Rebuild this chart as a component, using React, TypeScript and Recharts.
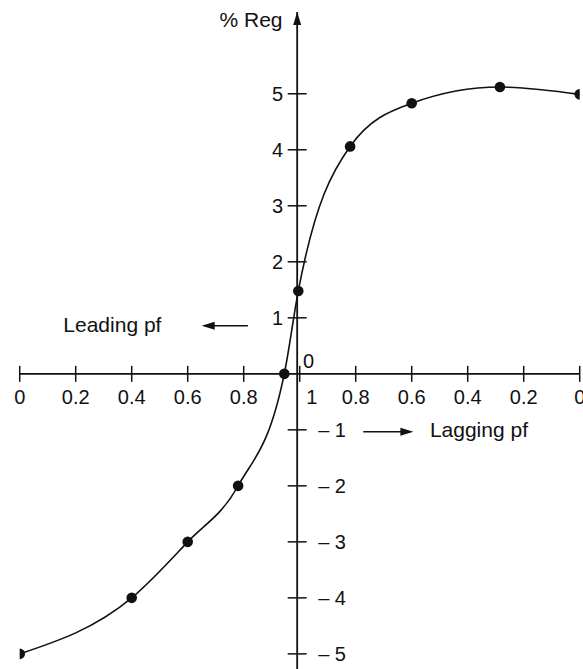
import React from 'react';
import { ComposedChart, Line, XAxis, YAxis, ReferenceLine, ReferenceDot } from 'recharts';

// x position runs 0..2: leading pf 0 -> 1 on the left, lagging pf 1 -> 0 on the right
const pfPos = [0, 0.4, 0.6, 0.78, 0.945, 0.995, 1.18, 1.4, 1.715, 2];
const regPct = [-5, -4, -3, -2, 0, 1.48, 4.06, 4.83, 5.12, 4.99];

const xTickPos = [0, 0.2, 0.4, 0.6, 0.8, 1, 1.2, 1.4, 1.6, 1.8, 2];
const xTickLabels = ['0', '0.2', '0.4', '0.6', '0.8', '1', '0.8', '0.6', '0.4', '0.2', '0'];
const yTickValues = [-5, -4, -3, -2, -1, 1, 2, 3, 4, 5];

const Y_AXIS_AT = 0.991;
const INK = '#111';
const FONT = '"Liberation Sans", Arial, sans-serif';

type DotProps = { cx?: number; cy?: number };

function XTickMark({ cx = 0, cy = 0, label }: DotProps & { label: string }) {
  const dx = label === '1' ? 12 : 0;
  return (
    <g>
      <line x1={cx} x2={cx} y1={cy - 8} y2={cy + 8} stroke={INK} strokeWidth={1.5} />
      <text x={cx + dx} y={cy + 30} textAnchor="middle" fontSize={20} fontFamily={FONT} fill={INK}>
        {label}
      </text>
    </g>
  );
}

function YTickMark({ cx = 0, cy = 0, value }: DotProps & { value: number }) {
  const neg = value < 0;
  return (
    <g>
      <line x1={cx - 9.5} x2={cx + 9.5} y1={cy} y2={cy} stroke={INK} strokeWidth={1.5} />
      <text
        x={neg ? cx + 21 : cx - 14}
        y={cy + 7}
        textAnchor={neg ? 'start' : 'end'}
        fontSize={20}
        fontFamily={FONT}
        fill={INK}
      >
        {neg ? `\u2013 ${Math.abs(value)}` : value}
      </text>
    </g>
  );
}

function ArrowHead({ cx = 0, cy = 0, dir }: DotProps & { dir: 'up' | 'left' | 'right' }) {
  const pts =
    dir === 'up'
      ? `${cx},${cy} ${cx - 4},${cy + 13} ${cx + 4},${cy + 13}`
      : dir === 'left'
        ? `${cx},${cy} ${cx + 13},${cy - 4} ${cx + 13},${cy + 4}`
        : `${cx},${cy} ${cx - 13},${cy - 4} ${cx - 13},${cy + 4}`;
  return <polygon points={pts} fill={INK} />;
}

function Caption({ cx = 0, cy = 0, text, anchor = 'middle' }: DotProps & { text: string; anchor?: 'start' | 'middle' | 'end' }) {
  return (
    <text x={cx} y={cy + 7.5} textAnchor={anchor} fontSize={21} fontFamily={FONT} fill={INK}>
      {text}
    </text>
  );
}

export default function App() {
  const data = pfPos.map((pf, i) => ({ pf, reg: regPct[i] }));

  return (
    <div style={{ position: 'absolute', left: 0, top: 0, width: 583, height: 669, background: '#fff' }}>
      <ComposedChart
        width={583}
        height={669}
        data={data}
        margin={{ top: 12, right: 3.3, bottom: 0, left: 19.7 }}
      >
        <XAxis type="number" dataKey="pf" domain={[0, 2]} hide allowDataOverflow />
        <YAxis type="number" domain={[-5.27, 6.46]} hide allowDataOverflow />

        <ReferenceLine y={0} stroke={INK} strokeWidth={1.6} />
        <ReferenceLine x={Y_AXIS_AT} stroke={INK} strokeWidth={1.8} />
        <ReferenceDot
          x={Y_AXIS_AT}
          y={6.46}
          r={0}
          ifOverflow="visible"
          shape={(p: DotProps) => <ArrowHead {...p} dir="up" />}
        />

        {xTickPos.map((pos, i) => (
          <ReferenceDot
            key={`xt${i}`}
            x={pos}
            y={0}
            r={0}
            ifOverflow="visible"
            shape={(p: DotProps) => <XTickMark {...p} label={xTickLabels[i]} />}
          />
        ))}
        {yTickValues.map((v) => (
          <ReferenceDot
            key={`yt${v}`}
            x={Y_AXIS_AT}
            y={v}
            r={0}
            ifOverflow="visible"
            shape={(p: DotProps) => <YTickMark {...p} value={v} />}
          />
        ))}
        <ReferenceDot
          x={Y_AXIS_AT}
          y={0}
          r={0}
          ifOverflow="visible"
          shape={(p: DotProps) => (
            <text x={(p.cx ?? 0) + 11.5} y={(p.cy ?? 0) - 5.5} textAnchor="middle" fontSize={20} fontFamily={FONT} fill={INK}>
              0
            </text>
          )}
        />

        <ReferenceDot
          x={0.826}
          y={6.32}
          r={0}
          ifOverflow="visible"
          shape={(p: DotProps) => <Caption {...p} text="% Reg" />}
        />

        {/* leading pf annotation */}
        <ReferenceLine segment={[{ x: 0.815, y: 0.857 }, { x: 0.66, y: 0.857 }]} stroke={INK} strokeWidth={1.5} />
        <ReferenceDot x={0.65} y={0.857} r={0} ifOverflow="visible" shape={(p: DotProps) => <ArrowHead {...p} dir="left" />} />
        <ReferenceDot x={0.331} y={0.875} r={0} ifOverflow="visible" shape={(p: DotProps) => <Caption {...p} text="Leading pf" />} />

        {/* lagging pf annotation */}
        <ReferenceLine segment={[{ x: 1.227, y: -1.036 }, { x: 1.396, y: -1.036 }]} stroke={INK} strokeWidth={1.5} />
        <ReferenceDot x={1.406} y={-1.036} r={0} ifOverflow="visible" shape={(p: DotProps) => <ArrowHead {...p} dir="right" />} />
        <ReferenceDot x={1.465} y={-1.0} r={0} ifOverflow="visible" shape={(p: DotProps) => <Caption {...p} text="Lagging pf" anchor="start" />} />

        <Line
          type="monotone"
          dataKey="reg"
          stroke={INK}
          strokeWidth={1.6}
          dot={{ r: 5.3, fill: INK, stroke: INK, strokeWidth: 0 }}
          activeDot={false}
          isAnimationActive={false}
        />
      </ComposedChart>
    </div>
  );
}
